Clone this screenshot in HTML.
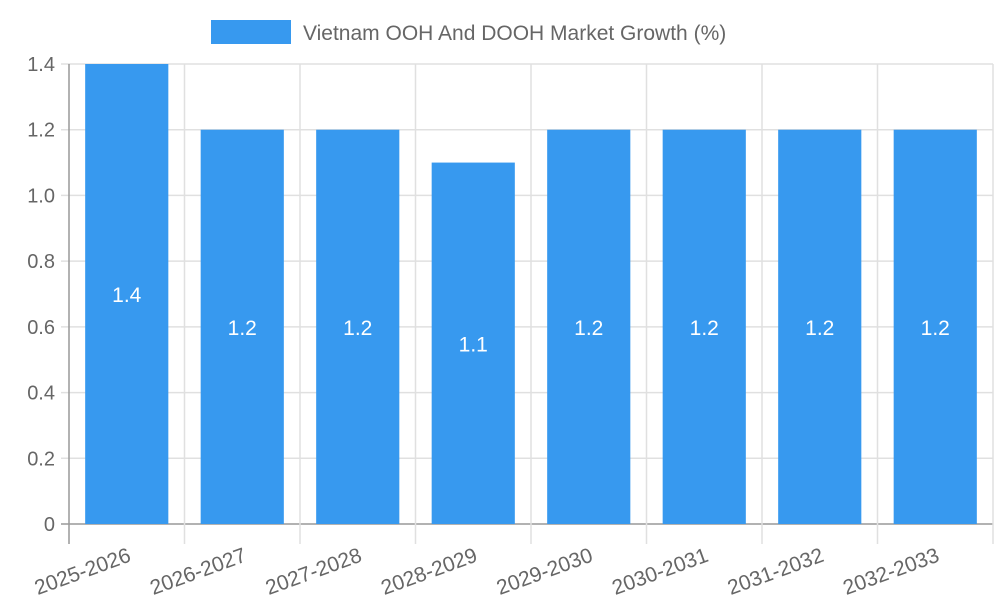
<!DOCTYPE html>
<html><head><meta charset="utf-8"><style>
html,body{margin:0;padding:0;background:#fff;}
svg{display:block;font-family:"Liberation Sans",sans-serif;}
</style></head><body>
<svg id="chart" width="1000" height="600">
<g>
<rect x="211" y="20" width="80" height="24" fill="#3799ef"/>
<text x="303" y="40" font-size="21" fill="#666">Vietnam OOH And DOOH Market Growth (%)</text>
</g>
<g id="grid"></g><g id="bars"></g><g id="axes"></g>
</svg>
<script>
const categories = ["2025-2026","2026-2027","2027-2028","2028-2029","2029-2030","2030-2031","2031-2032","2032-2033"];
const values = [1.4,1.2,1.2,1.1,1.2,1.2,1.2,1.2];
const yTicks = [0,0.2,0.4,0.6,0.8,1.0,1.2,1.4];
const yTickLabels = ["0","0.2","0.4","0.6","0.8","1.0","1.2","1.4"];
const X0=69,X1=993,Y0=524,Y1=64,YMAX=1.4;
const NS="http://www.w3.org/2000/svg";
const bw=(X1-X0)/categories.length;
const y=v=>Y0-(v/YMAX)*(Y0-Y1);
const xc=i=>X0+bw*(i+0.5);
function mk(tag,attrs,parent){const e=document.createElementNS(NS,tag);for(const k in attrs)e.setAttribute(k,attrs[k]);parent.appendChild(e);return e;}
const grid=document.getElementById('grid'),bars=document.getElementById('bars'),axes=document.getElementById('axes');
yTicks.forEach((t,i)=>{
  const l=mk('line',{x1:X0-8,x2:X1,y1:y(t),y2:y(t),stroke:i===0?'#999':'#e0e0e0','stroke-width':1.5},grid);
  
  
  const tx=mk('text',{x:X0-14,y:y(t)+7,'text-anchor':'end','font-size':20,fill:'#666'},axes);
  tx.textContent=yTickLabels[i];
  
  
});
for(let i=0;i<=categories.length;i++){
  const gx=X0+bw*i;
  const l=mk('line',{x1:gx,x2:gx,y1:Y1,y2:Y0+20,stroke:i===0?'#999':'#e0e0e0','stroke-width':1.5},grid);
  
  
}
categories.forEach((c,i)=>{
  const w=bw*0.72;
  const r=mk('rect',{x:xc(i)-w/2,y:y(values[i]),width:w,height:Y0-y(values[i]),fill:'#3799ef'},bars);
  
  
  const vt=mk('text',{x:xc(i),y:(y(values[i])+Y0)/2+8,'text-anchor':'middle','font-size':21,fill:'#fff'},bars);
  vt.textContent=values[i].toFixed(1);
  
  
  const lt=mk('text',{x:xc(i),y:Y0+22,'text-anchor':'end','font-size':21,fill:'#666',transform:`rotate(-20 ${xc(i)} ${Y0+22})`,dy:'0.75em'},axes);
  lt.textContent=c;
  
  
});
</script>
</body></html>
